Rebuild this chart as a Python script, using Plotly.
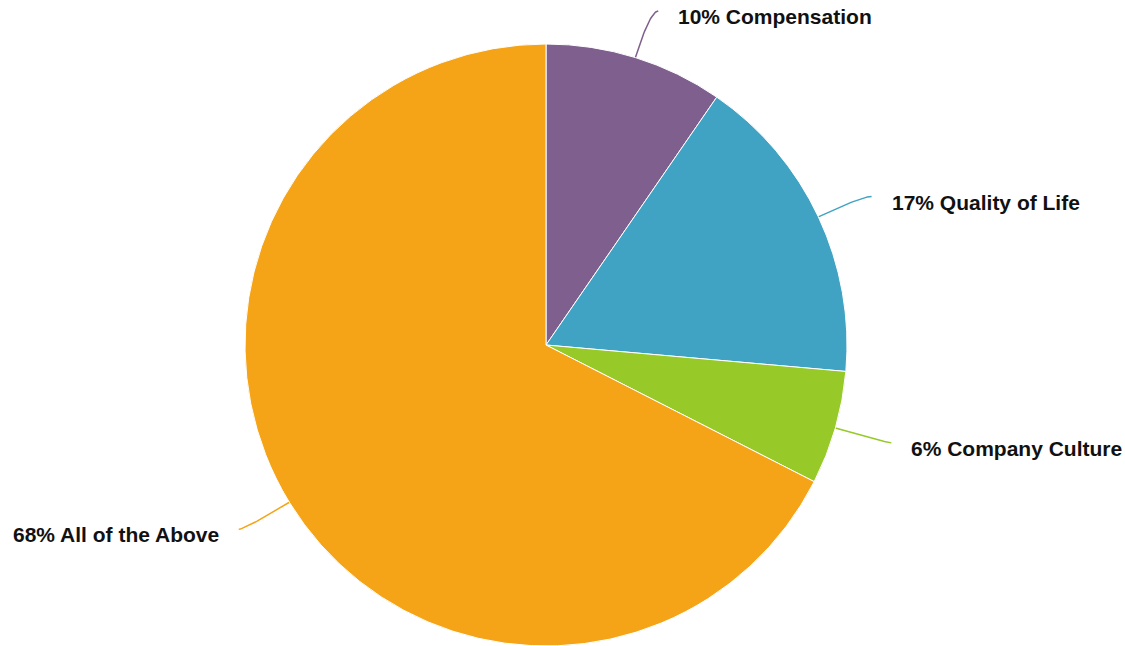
import numpy as np
import plotly.graph_objects as go

categories = ["Compensation", "Quality of Life", "Company Culture", "All of the Above"]
values = [9.6, 16.8, 6.1, 67.5]
colors = ["#7E5F8E", "#41A3C3", "#97C928", "#F5A418"]

W, H = 1125, 646
cx, cy, r = 546, 345, 301

fig = go.Figure()
fig.add_trace(go.Pie(
    labels=categories, values=values, sort=False, direction="clockwise", rotation=0,
    marker=dict(colors=colors, line=dict(color="white", width=1)),
    textinfo="none", hoverinfo="label+percent",
    domain=dict(x=[(cx - r) / W, (cx + r) / W], y=[(H - cy - r) / H, (H - cy + r) / H]),
    showlegend=False,
))

total = sum(values)
cum = 0
annotations = []
for cat, v, col in zip(categories, values, colors):
    mid = (cum + v / 2) / total * 2 * np.pi
    cum += v
    s, c = np.sin(mid), np.cos(mid)
    p0 = np.array([cx + r * s, cy - r * c])
    p1 = np.array([cx + (r + 48) * s, cy - (r + 48) * c])
    side = 1 if s >= 0 else -1
    p2 = np.array([cx + (r + 50) * s + side * 8, cy - (r + 50) * c + 1])
    t = np.linspace(0, 1, 30)[:, None]
    pts = (1 - t) ** 2 * p0 + 2 * (1 - t) * t * p1 + t ** 2 * p2
    fig.add_trace(go.Scatter(x=pts[:, 0], y=pts[:, 1], mode="lines",
                             line=dict(color=col, width=1.5), hoverinfo="skip",
                             showlegend=False, xaxis="x", yaxis="y"))
    pct = round(v / total * 100)
    annotations.append(dict(
        x=p2[0] + side * 18, y=p2[1] + 5.5, xref="x", yref="y",
        text=f"{pct}% {cat}", showarrow=False,
        xanchor="left" if side > 0 else "right", yanchor="middle",
        font=dict(family="Liberation Sans, Arial, sans-serif", size=21, color="#111111", weight="bold"),
    ))

fig.update_layout(
    width=W, height=H, margin=dict(l=0, r=0, t=0, b=0),
    paper_bgcolor="white", plot_bgcolor="rgba(0,0,0,0)",
    xaxis=dict(range=[0, W], visible=False, domain=[0, 1], fixedrange=True),
    yaxis=dict(range=[H, 0], visible=False, domain=[0, 1], fixedrange=True),
    annotations=annotations, showlegend=False,
)

fig.write_html("out.html")
